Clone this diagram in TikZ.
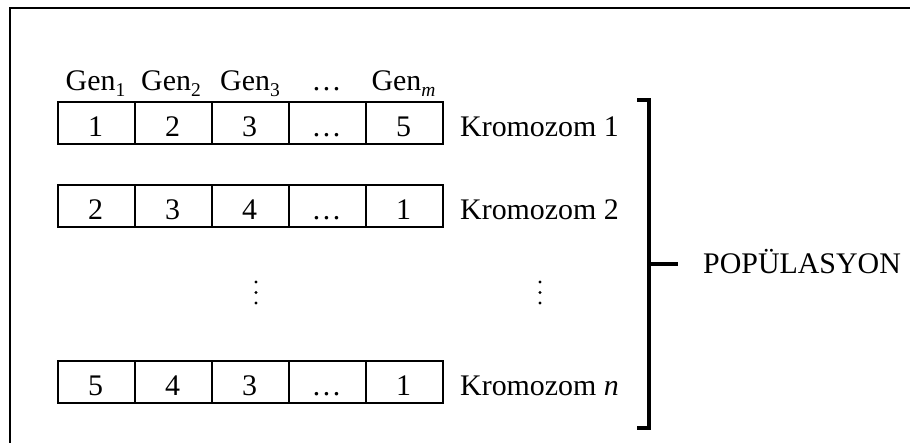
\documentclass[tikz,border=0pt]{standalone}
\usepackage{fontspec}
\setmainfont{Liberation Serif}
\newcommand{\gsub}[1]{\raisebox{-0.22em}{\fontsize{19.5}{19.5}\selectfont #1}}
\begin{document}
\begin{tikzpicture}[x=1pt,y=-1pt,
  txt/.style={font=\fontsize{29.9}{33}\selectfont, inner sep=0pt, anchor=base},
  cellbox/.style={draw, line width=1.8pt, minimum width=77pt, minimum height=42pt, inner sep=0pt, anchor=north west},
  brk/.style={line width=4pt}]
\useasboundingbox (0,0) rectangle (910,442);
\begin{scope}
\clip (0,0) rectangle (910,442);
\draw[line width=2pt] (10,8) rectangle (930,460);
\end{scope}
% Gen labels
\node[txt] (g1) at (95.5,90) {Gen\gsub{1}};
\node[txt] (g2) at (171,90) {Gen\gsub{2}};
\node[txt] (g3) at (250,90) {Gen\gsub{3}};
\node[txt] (g4) at (326.5,90) {\dots};
\node[txt] (g5) at (403.5,90) {Gen\gsub{\textit{m}}};
% rows
\foreach \r/\y/\vals/\lab in {a/101/{1,2,3,\dots,5}/Kromozom 1, b/184/{2,3,4,\dots,1}/Kromozom 2, c/360/{5,4,3,\dots,1}/Kromozom \textit{n}}{
  \foreach \v [count=\i] in \vals {
    \node[cellbox] (\r\i) at ({57+77*(\i-1)},\y) {};
    \node[txt] (\r t\i) at ({57+77*(\i-1)+38.5},\y+35) {\v};
  }
  \node[txt, anchor=base west] (\r k) at (460,\y+35) {\lab};
}
% vertical dots
\foreach \xx/\nm in {256/dl,540/dr}{
  \foreach \yy [count=\j] in {282,292.5,303}{
    \fill (\xx,\yy) circle (1.7pt);
  }
}
% bracket
\coordinate (bt) at (637,100);
\coordinate (bb) at (637,428);
\coordinate (bm) at (649,264);
\draw[brk, line join=miter] (bt) -- (649,100) -- (649,428) -- (bb);
\node[txt, anchor=base west] (pop) at (703,273) {POPÜLASYON};
\coordinate (pt) at (678,264);
\draw[line width=3.5pt] (bm) -- (pt);
\end{tikzpicture}
\end{document}
